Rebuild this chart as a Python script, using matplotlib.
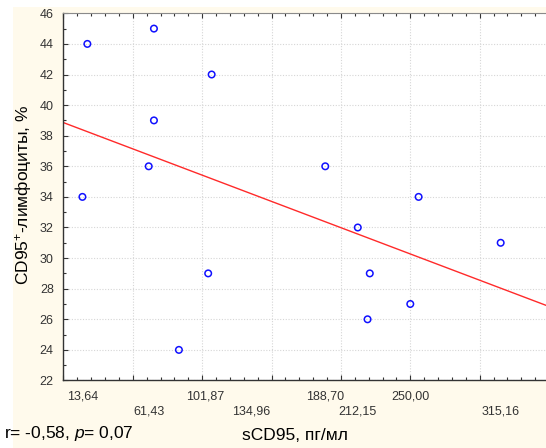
import matplotlib
matplotlib.use("Agg")
import matplotlib.pyplot as plt
import matplotlib.patches as mpatches
from matplotlib.ticker import MultipleLocator
import numpy as np

plt.rcParams['font.family'] = ['Liberation Sans', 'DejaVu Sans']
plt.rcParams['mathtext.fontset'] = 'custom'
plt.rcParams['mathtext.rm'] = 'Liberation Sans'
plt.rcParams['mathtext.it'] = 'Liberation Sans:italic'

# sCD95 (pg/ml) vs. CD95+ lymphocytes (%)
scd95 = [13.64, 17.2, 61.43, 65.2, 65.2, 83.2, 104.3, 106.8,
         188.70, 212.15, 219.2, 220.8, 250.00, 256.0, 315.16]
cd95_lymph = [34, 44, 36, 45, 39, 24, 29, 42,
              36, 32, 26, 29, 27, 34, 31]

x_tick_values = [13.64, 61.43, 101.87, 134.96, 188.70, 212.15, 250.00, 315.16]
x_tick_labels = ["13,64", "61,43", "101,87", "134,96", "188,70", "212,15", "250,00", "315,16"]
x_tick_row = [0, 1, 0, 1, 0, 1, 0, 1]
y_ticks = list(range(22, 47, 2))

stats_text = "r= -0,58, $p$= 0,07"
x_title = "sCD95, пг/мл"
y_title = "CD95$^{+}$-лимфоциты, %"

fig = plt.figure(figsize=(5.46, 4.48), dpi=100)
fig.patch.set_facecolor("white")
fig.patches.append(mpatches.Rectangle((0.0233, 0.0), 1.0, 0.984,
                                      transform=fig.transFigure,
                                      facecolor="#fffaec", edgecolor="none",
                                      zorder=-10))

ax = fig.add_axes([0.1163, 0.1507, 0.8892, 0.8196])
ax.set_facecolor("white")
ax.set_xlim(0, 350)
ax.set_ylim(22, 46)

ax.xaxis.set_major_locator(MultipleLocator(50))
ax.xaxis.set_minor_locator(MultipleLocator(10))
ax.set_yticks(y_ticks)
ax.set_yticklabels([str(v) for v in y_ticks])
ax.yaxis.set_minor_locator(MultipleLocator(1))
ax.set_xticklabels([])

ax.grid(True, which="major", color="#d6d6d6", linestyle=(0, (1, 1.5)), linewidth=0.8)
ax.set_axisbelow(True)

ax.tick_params(axis="x", which="both", direction="in", top=True, bottom=True,
               color="#333333")
ax.tick_params(axis="y", which="both", direction="in", left=True, right=False,
               color="#333333", labelsize=9, labelcolor="#333333", pad=7)
ax.tick_params(which="major", length=3.5, width=0.8)
ax.tick_params(which="minor", length=2.5, width=0.8)

for side in ("left", "bottom"):
    ax.spines[side].set_color("#333333")
    ax.spines[side].set_linewidth(1.0)
ax.spines["top"].set_color("#8a8a8a")
ax.spines["right"].set_visible(False)

# staggered value labels under the x axis
xt = ax.get_xaxis_transform()
for v, lab, row in zip(x_tick_values, x_tick_labels, x_tick_row):
    y_off = -0.027 if row == 0 else -0.068
    ax.text(v, y_off, lab, transform=xt, ha="center", va="top",
            fontsize=9, color="#333333")

# regression line
slope, intercept = np.polyfit(scd95, cd95_lymph, 1)
xs = np.array(ax.get_xlim())
ax.plot(xs, intercept + slope * xs, color="#ff2a2a", linewidth=1.0, zorder=2)

ax.scatter(scd95, cd95_lymph, s=22, facecolors="none", edgecolors="#1010ff",
           linewidths=1.1, zorder=3)

fig.text(0.0073, 0.0105, stats_text, ha="left", va="bottom", fontsize=12.5,
         color="black")
fig.text(0.54, 0.0105, x_title, ha="center", va="bottom", fontsize=12.5,
         color="black")
fig.text(0.044, 0.565, y_title, rotation=90, ha="center", va="center",
         fontsize=12.5, color="black")

fig.savefig("out.png", dpi=100, facecolor=fig.get_facecolor())
